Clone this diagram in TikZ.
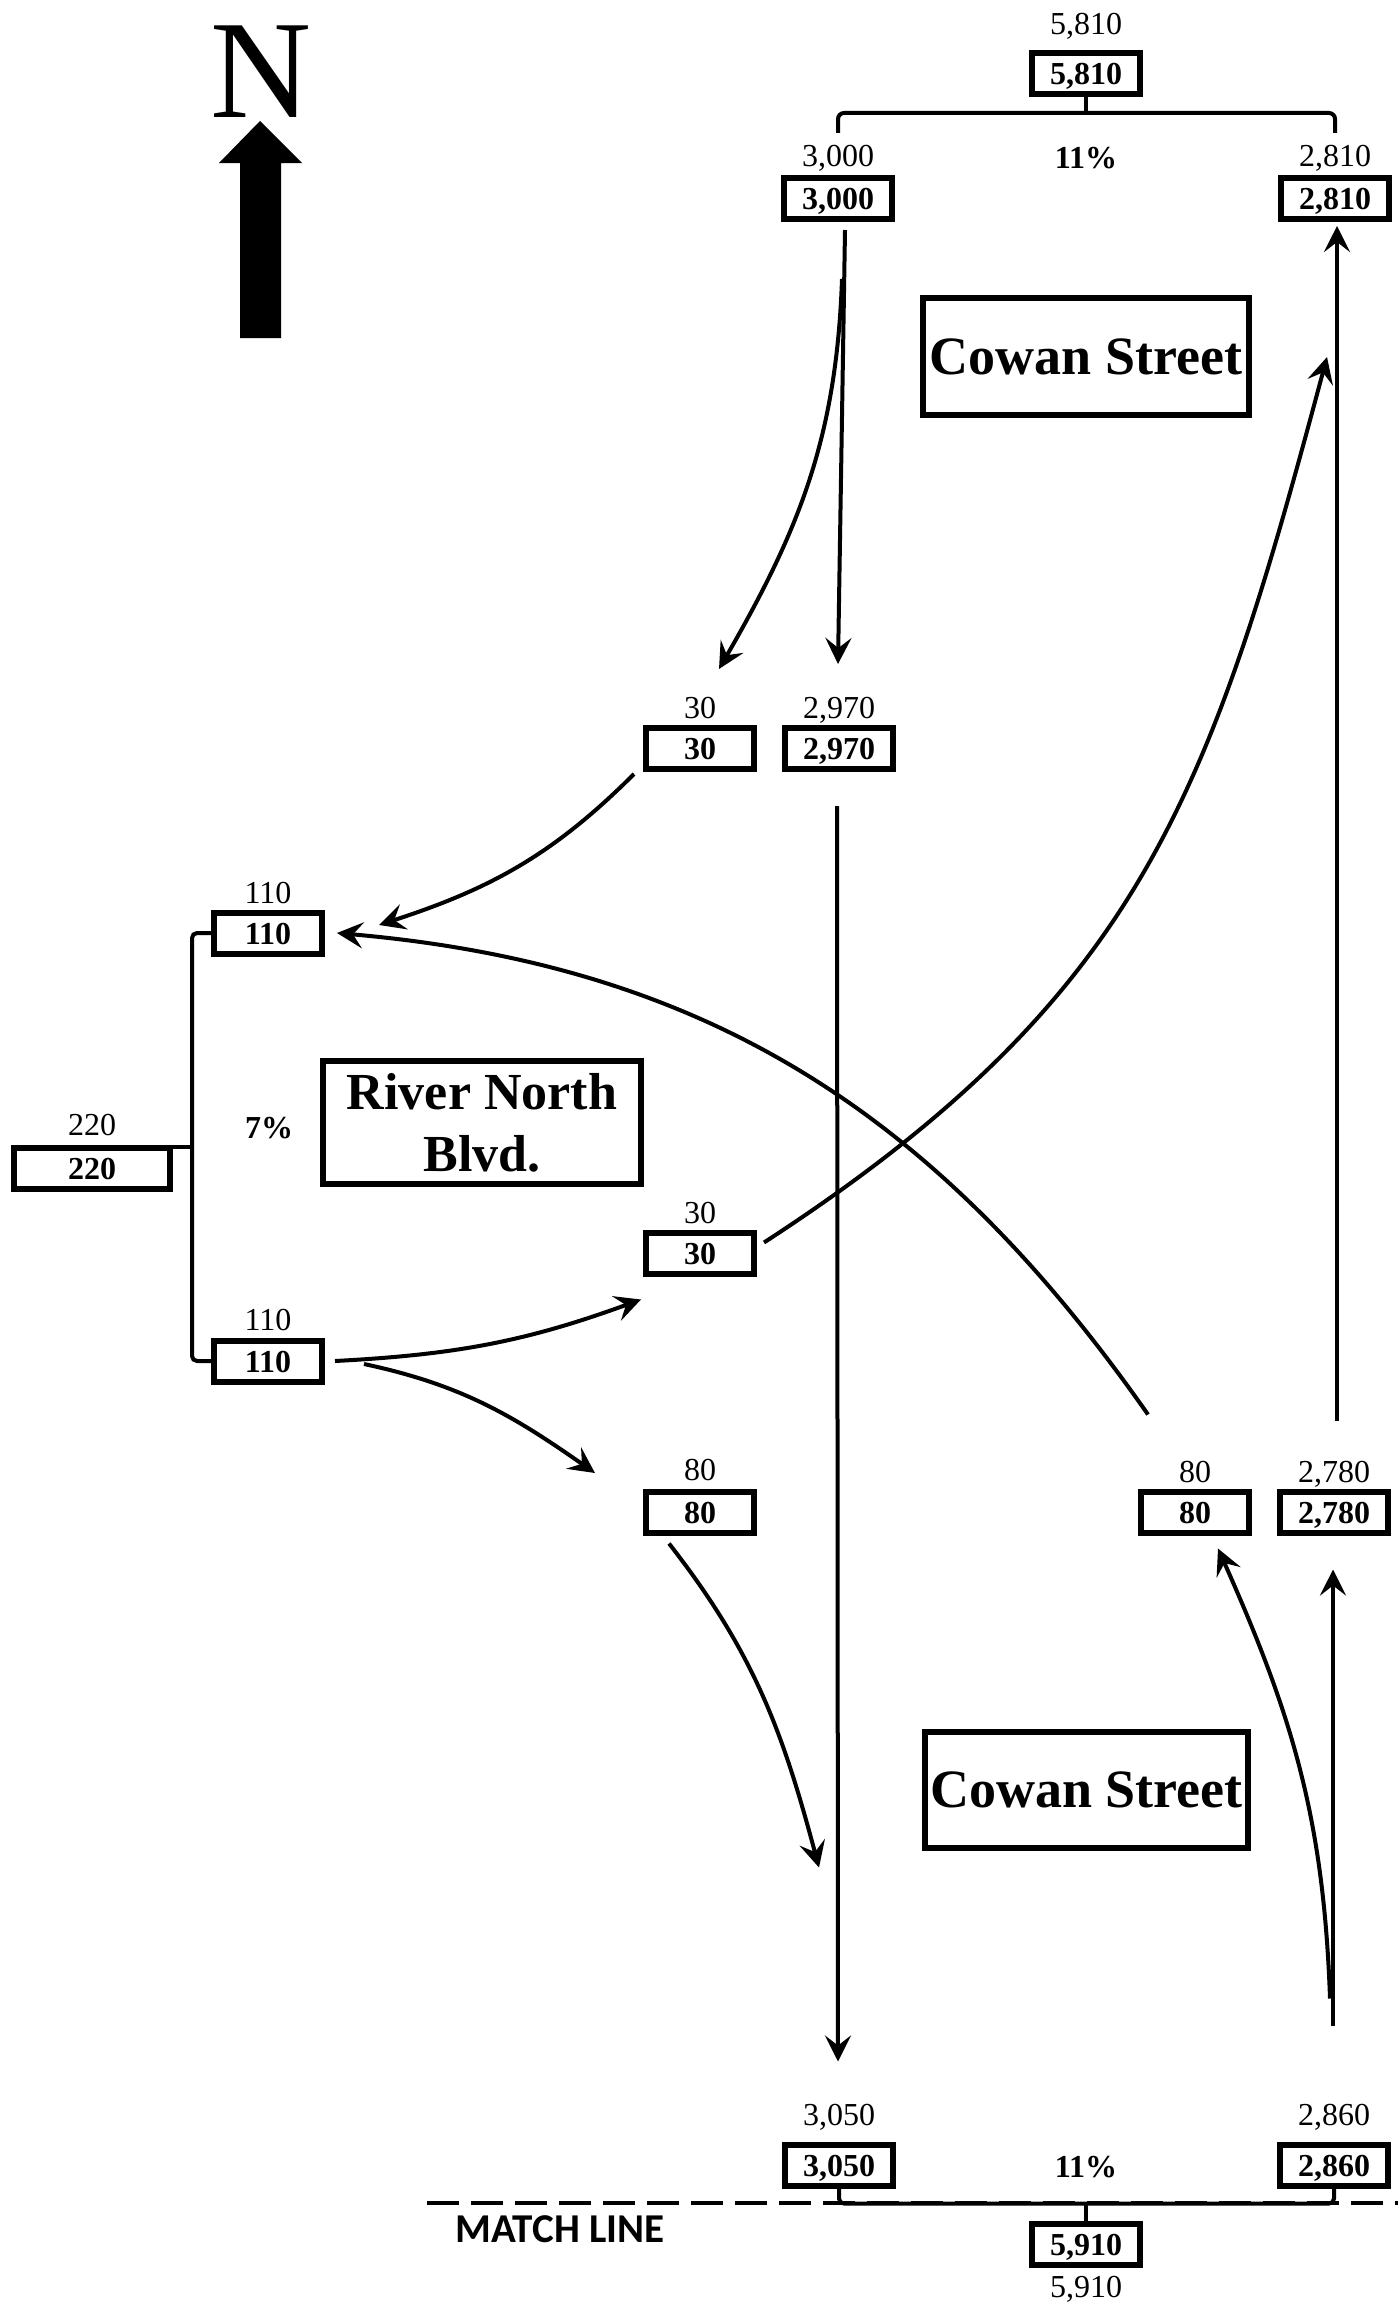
\documentclass[tikz,border=0pt]{standalone}
\usepackage{fontspec}
\setmainfont{Liberation Serif}
\newfontfamily\matchfont{Carlito}
\usetikzlibrary{arrows.meta,calc}
\begin{document}
\begin{tikzpicture}[x=1pt,y=1pt,
 nb/.style={draw, line width=6pt, minimum width=108pt, minimum height=41pt, inner sep=0pt, font=\fontsize{32}{32}\selectfont\bfseries, text height=22pt, text depth=0pt},
 lab/.style={inner sep=0pt, font=\fontsize{32}{32}\selectfont, anchor=base},
 pct/.style={inner sep=0pt, font=\fontsize{32}{32}\selectfont\bfseries, anchor=base},
 street/.style={draw, line width=6pt, font=\fontsize{54}{62}\selectfont\bfseries, align=center, inner sep=0pt},
 conn/.style={line width=4pt, -{Stealth[length=26pt,width=26pt,inset=10pt]}},
 brk/.style={line width=4pt},
]
\useasboundingbox (0,0) rectangle (1398,-2304);

% north arrow
\node[inner sep=0pt, font=\fontsize{140}{140}\selectfont] (north) at (261,-72) {N};
\fill (240,-338) -- (240,-163) -- (219,-163) -- (260,-121) -- (302,-163) -- (281,-163) -- (281,-338) -- cycle;

% boxes
\node[nb] (b5810) at (1086,-74) {5,810};
\node[nb] (b3000) at (838,-198.5) {3,000};
\node[nb] (b2810) at (1335,-198.5) {2,810};
\node[nb] (b30a) at (700,-748.5) {30};
\node[nb] (b2970) at (839,-748.5) {2,970};
\node[nb] (b110a) at (268,-933) {110};
\node[nb, minimum width=156pt] (b220) at (92,-1168) {220};
\node[nb] (b30b) at (700,-1253.5) {30};
\node[nb] (b110b) at (268,-1361) {110};
\node[nb] (b80a) at (700,-1512) {80};
\node[nb] (b80b) at (1195,-1512) {80};
\node[nb] (b2780) at (1334,-1512) {2,780};
\node[nb] (b3050) at (839,-2165) {3,050};
\node[nb] (b2860) at (1334,-2165) {2,860};
\node[nb] (b5910) at (1086,-2244) {5,910};

% labels
\node[lab] (l5810) at ($(b5810.north)+(0,16)$) {5,810};
\node[lab] (l3000) at ($(b3000.north)+(0,9)$) {3,000};
\node[lab] (l2810) at ($(b2810.north)+(0,9)$) {2,810};
\node[lab] (l30a) at ($(b30a.north)+(0,7)$) {30};
\node[lab] (l2970) at ($(b2970.north)+(0,7)$) {2,970};
\node[lab] (l110a) at ($(b110a.north)+(0,6)$) {110};
\node[lab] (l220) at ($(b220.north)+(0,9)$) {220};
\node[lab] (l30b) at ($(b30b.north)+(0,7)$) {30};
\node[lab] (l110b) at ($(b110b.north)+(0,7)$) {110};
\node[lab] (l80a) at ($(b80a.north)+(0,8)$) {80};
\node[lab] (l80b) at ($(b80b.north)+(0,6)$) {80};
\node[lab] (l2780) at ($(b2780.north)+(0,6)$) {2,780};
\node[lab] (l3050) at ($(b3050.north)+(0,16)$) {3,050};
\node[lab] (l2860) at ($(b2860.north)+(0,16)$) {2,860};
\node[lab] (l5910) at ($(b5910.south)+(0,-29.5)$) {5,910};

% percentages
\node[pct] (p11a) at (1086,-168) {11\%};
\node[pct] (p7) at (269,-1138) {7\%};
\node[pct] (p11b) at (1086,-2177) {11\%};

% street names
\node[street, minimum width=326pt, minimum height=117pt] (cowanN) at (1086,-356.5) {Cowan Street};
\node[street, minimum width=318pt, minimum height=123pt] (river) at (482,-1122.5) {\fontsize{52}{62}\selectfont River North\\\fontsize{52}{62}\selectfont Blvd.};
\node[street, minimum width=323pt, minimum height=116pt] (cowanS) at (1086.5,-1790) {Cowan Street};

% match line
\coordinate (mlL) at (427,-2203);
\coordinate (mlR) at (1398,-2203);
\draw[line width=4pt, dash pattern=on 32pt off 12pt] (mlL) -- (mlR);
\node[anchor=base, inner sep=0pt, font=\matchfont\bfseries\fontsize{41}{41}\selectfont] (ml) at (560,-2242) {MATCH LINE};

% brackets
\draw[brk, rounded corners=6pt] ($(b3000.north)+(0,42)$) -- ($(b3000.north)+(0,62)$) -- ($(b2810.north)+(0,62)$) -- ($(b2810.north)+(0,42)$);
\draw[brk] (b5810.south) -- ($(b5810.south)+(0,-16)$);
\draw[brk, rounded corners=5pt] (b110a.west) -| ($(b220.east)+(19,0)$) |- (b110b.west);
\draw[brk] ($(b220.north east)+(0,-2)$) -- ++(19,0);
\draw[brk, rounded corners=5pt] (b3050.south) -- ($(b3050.south)+(0,-15)$) -- ($(b2860.south)+(0,-15)$) -- (b2860.south);
\draw[brk] (b5910.north) -- ++(0,18);

% connectors
\draw[conn] ($(b3000.south)+(7,-8)$) -- ($(b2970.north)+(-1,61)$);
\draw[conn] ($(b3000.south)+(4,-57)$) to[out=-92,in=60] ($(b30a.north)+(19,56)$);
\draw[conn] ($(b2970.south)+(-2,-34)$) -- ($(b3050.north)+(-1,80)$);
\draw[conn] ($(b30a.south)+(-66,-2)$) to[out=225,in=18] ($(b110a.east)+(54,8)$);
\draw[conn] ($(b80b.north)+(-47,74)$) to[out=125,in=-5] ($(b110a.east)+(12,0)$);
\draw[conn] ($(b30b.east)+(7,11)$) to[out=33,in=-105,looseness=1.1] ($(b2810.south)+(-8,-135)$);
\draw[conn] ($(b110b.east)+(10,0)$) to[out=3,in=-160] ($(b30b.west)+(-2,-46)$);
\draw[conn] ($(b110b.east)+(39,-3)$) to[out=-12,in=145] ($(b80a.west)+(-48,39)$);
\draw[conn] ($(b80a.south)+(-31,-8)$) to[out=-52,in=105] ($(b3050.north)+(-20,274)$);
\draw[conn] ($(b2860.north)+(-4,143)$) to[out=92,in=-66] ($(b80b.south)+(23,-13)$);
\draw[conn] ($(b2860.north)+(-1,116)$) -- ($(b2780.south)+(-1,-34)$);
\draw[conn] ($(b2780.north)+(3,68)$) -- ($(b2810.south)+(2,-4)$);
\end{tikzpicture}
\end{document}
